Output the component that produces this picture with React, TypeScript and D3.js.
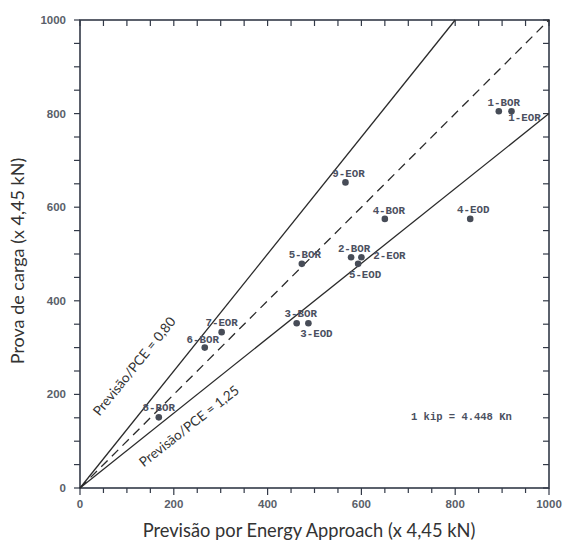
import React from "react";
import * as d3 from "d3";

const pointLabels = ["1-BOR", "1-EOR", "9-EOR", "4-BOR", "4-EOD", "5-BOR", "2-BOR", "2-EOR", "5-EOD", "3-BOR", "3-EOD", "6-BOR", "7-EOR", "8-BOR"];
const previsao = [893, 920, 566, 650, 832, 473, 578, 600, 593, 462, 487, 266, 302, 168];
const provaCarga = [805, 805, 653, 575, 575, 479, 493, 493, 479, 352, 352, 300, 333, 151];
// label offsets in px (layout only)
const labelDx = [5, 13, 3, 4, 3, 3, 3, 28, 7, 4, 8, -2, 0, 0];
const labelDy = [-5, 10, -5, -5, -6, -6, -5, 2, 14, -6, 14, -5, -6, -6];

const majorTicks = [0, 200, 400, 600, 800, 1000];
const minorTicks = d3.range(0, 1001, 50);
const ratioLines = [1.25, 1.0, 0.8]; // prova = ratio * previsao

export default function App() {
  const W = 563, H = 544;
  const x = d3.scaleLinear().domain([0, 1000]).range([80, 549]);
  const y = d3.scaleLinear().domain([0, 1000]).range([488, 20]);
  const axisColor = "#333a48";
  const tickColor = "#5a5f6a";
  const labelColor = "#4b5060";

  const lineEnd = (r: number) => {
    const xe = Math.min(1000, 1000 / r);
    return [xe, r * xe];
  };

  return (
    <svg width={W} height={H} style={{ position: "absolute", left: 0, top: 0, background: "#fff" }}>
      <rect x={0} y={0} width={W} height={H} fill="#fff" />
      {minorTicks.map((t) => (
        <g key={"t" + t} stroke={axisColor} strokeWidth={1.2}>
          <line x1={x(t)} x2={x(t)} y1={y(0)} y2={y(0) + (majorTicks.includes(t) ? 7 : 5)} />
          <line x1={x(t)} x2={x(t)} y1={y(1000)} y2={y(1000) + 6} />
          <line x1={x(0)} x2={x(0) - 6} y1={y(t)} y2={y(t)} />
          <line x1={x(1000)} x2={x(1000) - 6} y1={y(t)} y2={y(t)} />
        </g>
      ))}
      <rect x={x(0)} y={y(1000)} width={x(1000) - x(0)} height={y(0) - y(1000)} fill="none" stroke={axisColor} strokeWidth={1.6} />
      {majorTicks.map((t) => (
        <text key={"xl" + t} x={x(t)} y={508} textAnchor="middle" fontFamily="Liberation Sans, Arial, sans-serif" fontWeight="bold" fontSize={11.5} fill={tickColor}>
          {t}
        </text>
      ))}
      {majorTicks.map((t) => (
        <text key={"yl" + t} x={66} y={y(t)} dy="0.35em" textAnchor="end" fontFamily="Liberation Sans, Arial, sans-serif" fontWeight="bold" fontSize={11.5} fill={tickColor}>
          {t}
        </text>
      ))}
      {ratioLines.map((r) => {
        const [xe, ye] = lineEnd(r);
        return (
          <line key={"r" + r} x1={x(0)} y1={y(0)} x2={x(xe)} y2={y(ye)} stroke="#2b2b2b" strokeWidth={1.3} strokeDasharray={r === 1 ? "9,6" : undefined} />
        );
      })}
      <text transform={`translate(140,371) rotate(-51)`} textAnchor="middle" dy="-0.2em" fontFamily="Lato, sans-serif" fontSize={13.5} fill="#333">
        Previsão/PCE = 0,80
      </text>
      <text transform={`translate(189,426) rotate(-38)`} textAnchor="middle" dy="0.35em" fontFamily="Lato, sans-serif" fontSize={13.5} fill="#333">
        Previsão/PCE = 1,25
      </text>
      {previsao.map((v, i) => (
        <g key={"p" + i}>
          <circle cx={x(v)} cy={y(provaCarga[i])} r={3.3} fill="#474c57" />
          <text x={x(v) + labelDx[i]} y={y(provaCarga[i]) + labelDy[i]} textAnchor="middle" fontFamily="Liberation Mono, Courier New, monospace" fontWeight="bold" fontSize={10.8} fill={labelColor}>
            {pointLabels[i]}
          </text>
        </g>
      ))}
      <text x={411} y={420} fontFamily="Liberation Mono, Courier New, monospace" fontWeight="bold" fontSize={10.5} fill={labelColor}>
        1 kip = 4.448 Kn
      </text>
      <text x={309} y={537} textAnchor="middle" fontFamily="Lato, sans-serif" fontSize={18.3} fill="#333">
        Previsão por Energy Approach (x 4,45 kN)
      </text>
      <text transform="translate(24,261) rotate(-90)" textAnchor="middle" fontFamily="Lato, sans-serif" fontSize={18} fill="#333">
        Prova de carga (x 4,45 kN)
      </text>
    </svg>
  );
}
